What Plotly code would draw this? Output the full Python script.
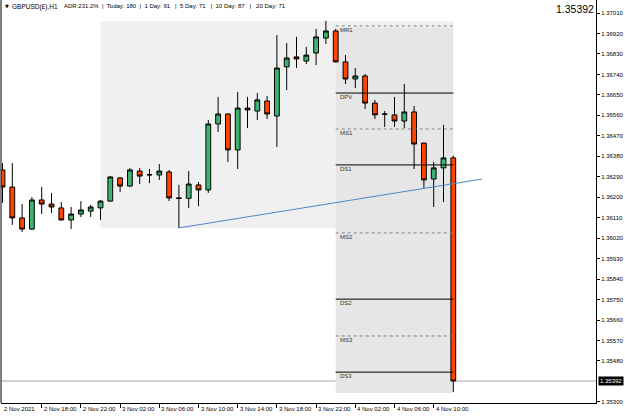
import pandas as pd
import plotly.graph_objects as go

# ---------------- data ----------------
start_time = "2021-11-02 14:00"
opens = [1.36320, 1.36245, 1.36109, 1.36060, 1.36188, 1.36170, 1.36153, 1.36100, 1.36126, 1.36139,
         1.36153, 1.36183, 1.36285, 1.36249, 1.36315, 1.36298, 1.36298, 1.36311, 1.36197, 1.36195,
         1.36254, 1.36232, 1.36522, 1.36566, 1.36408, 1.36592, 1.36579, 1.36623, 1.36557, 1.36773,
         1.36817, 1.36799, 1.36834, 1.36900, 1.36931, 1.36795, 1.36720, 1.36733, 1.36614, 1.36566,
         1.36562, 1.36535, 1.36575, 1.36438, 1.36280, 1.36329, 1.36373]
highs = [1.36350, 1.36350, 1.36170, 1.36201, 1.36245, 1.36219, 1.36179, 1.36157, 1.36183, 1.36166,
         1.36188, 1.36293, 1.36289, 1.36329, 1.36329, 1.36324, 1.36346, 1.36320, 1.36254, 1.36315,
         1.36267, 1.36540, 1.36641, 1.36570, 1.36663, 1.36641, 1.36658, 1.36645, 1.36913, 1.36878,
         1.36905, 1.36861, 1.36940, 1.36975, 1.36940, 1.36825, 1.36768, 1.36742, 1.36628, 1.36579,
         1.36641, 1.36698, 1.36601, 1.36440, 1.36355, 1.36518, 1.36383]
lows = [1.36175, 1.36078, 1.36047, 1.36055, 1.36126, 1.36131, 1.36098, 1.36060, 1.36113, 1.36113,
        1.36100, 1.36179, 1.36223, 1.36245, 1.36258, 1.36262, 1.36276, 1.36183, 1.36065, 1.36153,
        1.36161, 1.36219, 1.36487, 1.36355, 1.36324, 1.36504, 1.36540, 1.36544, 1.36421, 1.36671,
        1.36768, 1.36786, 1.36781, 1.36874, 1.36793, 1.36698, 1.36680, 1.36588, 1.36544, 1.36509,
        1.36509, 1.36504, 1.36324, 1.36241, 1.36157, 1.36179, 1.35344]
closes = [1.36245, 1.36109, 1.36060, 1.36188, 1.36170, 1.36157, 1.36100, 1.36126, 1.36144, 1.36157,
          1.36183, 1.36289, 1.36249, 1.36320, 1.36293, 1.36299, 1.36315, 1.36197, 1.36195, 1.36258,
          1.36232, 1.36522, 1.36566, 1.36408, 1.36592, 1.36584, 1.36628, 1.36566, 1.36768, 1.36812,
          1.36808, 1.36825, 1.36905, 1.36931, 1.36795, 1.36720, 1.36733, 1.36614, 1.36562, 1.36565,
          1.36535, 1.36575, 1.36434, 1.36276, 1.36329, 1.36373, 1.35392]

current_price = 1.35392
price_ticks = [1.37010, 1.36920, 1.36830, 1.36740, 1.36650, 1.36560, 1.36470, 1.36380, 1.36290,
               1.36200, 1.36110, 1.36020, 1.35930, 1.35840, 1.35750, 1.35660, 1.35570, 1.35480, 1.35300]
price_tick_labels = ["1.37010", "1.36920", "1.36830", "1.36740", "1.36650", "1.36560", "1.36470",
                     "1.36380", "1.36290", "1.36200", "1.36110", "1.36020", "1.35930", "1.35840",
                     "1.35750", "1.35660", "1.35570", "1.35480", "1.35300"]
time_ticks = ["2021-11-02 18:00", "2021-11-02 22:00", "2021-11-03 02:00", "2021-11-03 06:00",
              "2021-11-03 10:00", "2021-11-03 14:00", "2021-11-03 18:00", "2021-11-03 22:00",
              "2021-11-04 02:00", "2021-11-04 06:00", "2021-11-04 10:00"]
time_tick_labels = ["2 Nov 18:00", "2 Nov 22:00", "3 Nov 02:00", "3 Nov 06:00", "3 Nov 10:00",
                    "3 Nov 14:00", "3 Nov 18:00", "3 Nov 22:00", "4 Nov 02:00", "4 Nov 06:00",
                    "4 Nov 10:00"]
first_label = "2 Nov 2021"

# pivot levels (name, price, dotted?)
level_names = ["MR1", "DPV", "MS1", "DS1", "MS2", "DS2", "MS3", "DS3"]
level_prices = [1.36953, 1.36658, 1.36500, 1.36342, 1.36043, 1.35752, 1.35590, 1.35431]
level_dotted = [True, False, True, False, True, False, True, False]
level_start = "2021-11-04 00:00"
level_end = "2021-11-04 12:00"

# shaded ranges
range1 = ("2021-11-03 00:00", "2021-11-04 12:00", 1.36065, 1.36975)
range2 = ("2021-11-04 00:00", "2021-11-04 12:00", 1.35339, 1.36944)

# trend line
trend_x = ["2021-11-03 08:00", "2021-11-04 14:56"]
trend_y = [1.36065, 1.36280]

header_symbol = "GBPUSD(£),H1"
header_info = "ADR:231.2%  |  Today: 180  |  1 Day: 91   |  5 Day: 71   |  10 Day: 87   |   20 Day: 71"

# ---------------- figure ----------------
times = pd.date_range(start_time, periods=len(opens), freq="h")

W, H = 625, 417
L_PX, R_PX, T_PX, B_PX = 1, 596, 0, 403


def px_x(px):
    return (px - L_PX) / (R_PX - L_PX)


def px_y(py):
    return 1 - (py - T_PX) / (B_PX - T_PX)


FONT = "Liberation Sans"

fig = go.Figure()
fig.add_trace(go.Candlestick(
    x=times, open=opens, high=highs, low=lows, close=closes,
    increasing=dict(fillcolor="#3cb371", line=dict(color="#000000", width=1)),
    decreasing=dict(fillcolor="#ff4500", line=dict(color="#000000", width=1)),
    whiskerwidth=0, showlegend=False, hoverinfo="skip",
))

# trend line
fig.add_trace(go.Scatter(x=trend_x, y=trend_y, mode="lines",
                         line=dict(color="#4f86c6", width=1), showlegend=False, hoverinfo="skip"))

shapes = []
for (x0, x1, y0, y1), col in [(range1, "#f0f0f0"), (range2, "#e6e6e6")]:
    shapes.append(dict(type="rect", xref="x", yref="y", x0=x0, x1=x1, y0=y0, y1=y1,
                       fillcolor=col, line=dict(width=0), layer="below"))

# current price line
shapes.append(dict(type="line", xref="paper", yref="y", x0=0, x1=1, y0=current_price, y1=current_price,
                   line=dict(color="#a8a8a8", width=1), layer="below"))

for name, p, dotted in zip(level_names, level_prices, level_dotted):
    shapes.append(dict(type="line", xref="x", yref="y", x0=level_start, x1=level_end, y0=p, y1=p,
                       line=dict(color="#808080" if dotted else "#000000", width=1,
                                 dash="dot" if dotted else "solid"), layer="above"))

# left frame line
shapes.append(dict(type="line", xref="paper", yref="paper", x0=0, x1=0, y0=0, y1=1,
                   line=dict(color="#000000", width=1)))

annotations = []
for name, p in zip(level_names, level_prices):
    annotations.append(dict(x=level_start, y=p, xref="x", yref="y", text=name, showarrow=False,
                            xanchor="left", yanchor="top", xshift=2, yshift=1,
                            font=dict(family=FONT, size=6, color="#333333")))

# bottom time labels
annotations.append(dict(x=px_x(2), y=0, xref="paper", yref="paper", text=first_label, showarrow=False,
                        xanchor="left", yanchor="top", yshift=-1,
                        font=dict(family=FONT, size=6, color="#000000")))
for t, lab in zip(time_ticks, time_tick_labels):
    annotations.append(dict(x=t, y=0, xref="x", yref="paper", text=lab, showarrow=False,
                            xanchor="left", yanchor="top", xshift=0, yshift=-1,
                            font=dict(family=FONT, size=6, color="#000000")))

# header
annotations.append(dict(x=px_x(3), y=px_y(1), xref="paper", yref="paper", text="▼", showarrow=False,
                        xanchor="left", yanchor="top", font=dict(family="DejaVu Sans", size=5, color="#000000")))
annotations.append(dict(x=px_x(10), y=px_y(1), xref="paper", yref="paper", text=header_symbol,
                        showarrow=False, xanchor="left", yanchor="top",
                        font=dict(family=FONT, size=6.5, color="#000000")))
annotations.append(dict(x=px_x(62), y=px_y(1), xref="paper", yref="paper", text=header_info,
                        showarrow=False, xanchor="left", yanchor="top",
                        font=dict(family=FONT, size=6, color="#000000")))

# top-right price
annotations.append(dict(x=px_x(596), y=px_y(1), xref="paper", yref="paper", text=f"{current_price:.5f}",
                        showarrow=False, xanchor="right", yanchor="top",
                        font=dict(family=FONT, size=10.5, color="#000000")))

# current price marker on axis
annotations.append(dict(x=1, y=current_price, xref="paper", yref="y", text=f"{current_price:.5f}",
                        showarrow=False, xanchor="left", yanchor="middle", xshift=2,
                        bgcolor="#000000", borderpad=1,
                        font=dict(family=FONT, size=6, color="#ffffff")))

# axis ranges from pixel geometry: 9.8 px per hour, candle 0 at x=2.5
t0 = pd.Timestamp(start_time)
x_left = t0 - pd.Timedelta(hours=(2.5 - L_PX) / 9.8)
x_right = t0 + pd.Timedelta(hours=(R_PX - 2.5) / 9.8)
ppx = 0.0009 / 20.47
y_top = 1.37010 + 13 * ppx
y_bot = y_top - (B_PX - T_PX) * ppx

fig.update_layout(
    width=W, height=H,
    margin=dict(l=L_PX, r=W - R_PX, t=T_PX, b=H - B_PX),
    paper_bgcolor="#ffffff", plot_bgcolor="#ffffff",
    shapes=shapes, annotations=annotations,
    xaxis=dict(type="date", range=[x_left, x_right], rangeslider=dict(visible=False),
               showgrid=False, zeroline=False, showline=True, linecolor="#000000", linewidth=1,
               tickmode="array", tickvals=time_ticks, ticks="outside", ticklen=4, tickcolor="#000000",
               showticklabels=False),
    yaxis=dict(side="right", range=[y_bot, y_top], showgrid=False, zeroline=False,
               showline=True, linecolor="#000000", linewidth=1,
               tickmode="array", tickvals=price_ticks, ticktext=price_tick_labels,
               ticks="outside", ticklen=3, tickcolor="#000000",
               tickfont=dict(family=FONT, size=6, color="#000000")),
    font=dict(family=FONT),
)

fig.write_html("out.html")
